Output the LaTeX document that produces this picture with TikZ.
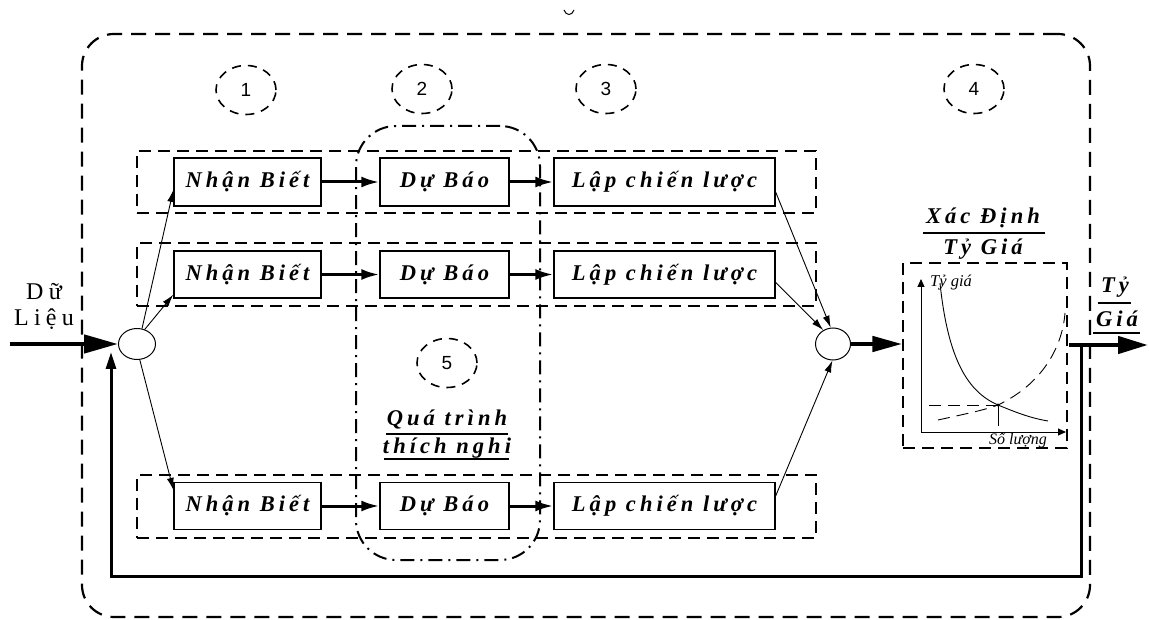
\documentclass[tikz,border=0pt]{standalone}
\usepackage{fontspec}
\setmainfont{Liberation Serif}
\newfontfamily\bfit[LetterSpace=18]{Liberation Serif}
\newfontfamily\spacedrm[LetterSpace=22]{Liberation Serif}
\newfontfamily\numfont{Liberation Sans}
\usetikzlibrary{arrows.meta,calc,shapes.geometric}
\begin{document}
\begin{tikzpicture}[x=1pt,y=-1pt,
  procbox/.style={draw,line width=1.3pt,inner sep=0pt,minimum height=47pt,
    font=\bfit\bfseries\itshape\fontsize{22.5}{22.5}\selectfont},
  rowrect/.style={draw,line width=1.2pt,dash pattern=on 12pt off 7pt,inner sep=0pt,minimum width=679pt},
  numcirc/.style={ellipse,draw,line width=1.6pt,dash pattern=on 9pt off 7pt,inner sep=0pt,
    minimum width=60pt,minimum height=49pt,font=\numfont\fontsize{19}{19}\selectfont},
  junction/.style={ellipse,draw,line width=1pt,inner sep=0pt},
  lbl/.style={inner sep=0pt,font=\bfit\bfseries\itshape\fontsize{22.5}{22.5}\selectfont},
  thickarr/.style={line width=3pt,-{Latex[length=18pt,width=11pt]}},
  thinarr/.style={line width=0.9pt,-{Latex[length=12pt,width=7pt]}},
  bigarr/.style={line width=4.5pt,-{Triangle[length=34pt,width=18pt]}},
  fbarr/.style={line width=3pt,-{Triangle[length=17pt,width=10pt]}},
  axisarr/.style={line width=1pt,-{Triangle[length=8pt,width=7pt]}},
  uline/.style={line width=1.2pt}
]
\useasboundingbox (0,0) rectangle (1149,620);
\fill[white] (0,0) rectangle (1149,620);

% outer system boundary
\node[draw,line width=2.2pt,dash pattern=on 15pt off 9pt,rounded corners=32pt,
  minimum width=1008pt,minimum height=583pt,inner sep=0pt] (sys) at (586,325.5) {};
% small mark at top
\draw[line width=1pt] (564,10) .. controls (566,16) and (572,16) .. (574,10);

% numbered circles
\node[numcirc] (c1) at (246,90) {1};
\node[numcirc] (c2) at (422,89) {2};
\node[numcirc] (c3) at (606,89) {3};
\node[numcirc] (c4) at (974,89) {4};
\node[numcirc] (c5) at (447,363) {5};

% row frames
\node[rowrect,minimum height=62pt] (r1) at (476.5,182) {};
\node[rowrect,minimum height=63pt] (r2) at (476.5,274.5) {};
\node[rowrect,minimum height=63pt] (r3) at (476.5,506.5) {};

% adaptive process region
\node[draw,line width=2pt,dash pattern=on 14pt off 6pt on 2pt off 6pt,rounded corners=40pt,
  minimum width=184pt,minimum height=434pt,inner sep=0pt] (adapt) at (448,343) {};

% process boxes
\node[procbox,minimum width=147pt,minimum height=48pt] (nb1) at (247.5,182) {Nhận Biết};
\node[procbox,minimum width=129pt,minimum height=48pt] (db1) at (444.5,182) {Dự Báo};
\node[procbox,minimum width=221pt,minimum height=48pt] (lc1) at (664.5,182) {Lập chiến lược};
\node[procbox,minimum width=147pt] (nb2) at (247.5,274.5) {Nhận Biết};
\node[procbox,minimum width=129pt] (db2) at (444.5,274.5) {Dự Báo};
\node[procbox,minimum width=221pt] (lc2) at (664.5,274.5) {Lập chiến lược};
\node[procbox,minimum width=147pt] (nb3) at (247.5,506) {Nhận Biết};
\node[procbox,minimum width=129pt] (db3) at (444.5,506) {Dự Báo};
\node[procbox,minimum width=221pt] (lc3) at (664.5,506) {Lập chiến lược};

\draw[thickarr] (nb1.east) -- (db1.west);
\draw[thickarr] (db1.east) -- (lc1.west);
\draw[thickarr] (nb2.east) -- (db2.west);
\draw[thickarr] (db2.east) -- (lc2.west);
\draw[thickarr] (nb3.east) -- (db3.west);
\draw[thickarr] (db3.east) -- (lc3.west);

% junctions
\node[junction,minimum width=37pt,minimum height=31pt] (in) at (137,344) {};
\node[junction,minimum width=35pt,minimum height=32pt] (sum) at (833,344) {};

% input
\node[inner sep=0pt,font=\spacedrm\fontsize{24}{24}\selectfont] (d1) at (44,292) {Dữ};
\node[inner sep=0pt,font=\spacedrm\fontsize{24}{24}\selectfont] (d2) at (44,319) {Liệu};
\coordinate (src) at (10,344);
\draw[bigarr] (src) -- (in.west);

% fan out
\draw[thinarr] (in.72) -- ($(nb1.west)+(0,8)$);
\draw[thinarr] (in.62) -- ($(nb2.south west)+(0,-4)$);
\draw[thinarr] (in.-80) -- ($(nb3.north west)+(0,8)$);

% fan in
\draw[thinarr] ($(lc1.east)+(0,10)$) -- (sum.98);
\draw[thinarr] ($(lc2.east)+(0,8)$) -- (sum.125);
\draw[thinarr] ($(lc3.east)+(0,-10)$) -- (sum.-92);

% chart block
\node[draw,line width=1.2pt,dash pattern=on 12pt off 7pt,minimum width=164pt,minimum height=185pt,
  inner sep=0pt] (chart) at (985,355.5) {};
\draw[line width=4.5pt,-{Triangle[length=30pt,width=15pt]}] (sum.east) -- (sum.east -| chart.west);
\node[lbl] (xd) at (983,218) {Xác Định};
\draw[uline] (923,233) -- (1045,233);
\node[lbl] (tg) at (983,249) {Tỷ Giá};

\coordinate (O) at (921,432);
\coordinate (Ytop) at (921,279);
\coordinate (Xend) at (1066,432);
\coordinate (E) at (998,405);
\draw[axisarr] (O) -- (Ytop);
\draw[axisarr] (O) -- (Xend);
\node[inner sep=0pt,anchor=west,font=\itshape\fontsize{16.5}{16.5}\selectfont] (ylab) at (930,283) {Tỷ giá};
\node[inner sep=0pt,font=\itshape\fontsize{16}{16}\selectfont] (xlab) at (1018,440) {Số lượng};
\draw[line width=0.9pt] (940,283) .. controls (948,360) and (968,392) .. (E)
  .. controls (1015,412) and (1030,418) .. (1048,421);
\draw[line width=0.9pt,dash pattern=on 12pt off 7pt] (938,420) .. controls (965,414) and (985,410) .. (E)
  .. controls (1040,385) and (1062,350) .. (1065,313);
\draw[line width=0.9pt,dash pattern=on 12pt off 7pt] (E) -- (E -| O);
\draw[line width=0.9pt] (E) -- ($(E)+(0,21)$);
\fill (E) circle (1.6pt);

% output
\coordinate (outA) at (1069,345);
\coordinate (outB) at (1148,345);
\draw[line width=4.5pt,-{Triangle[length=30pt,width=17pt]}] (outA) -- (outB);
\node[lbl] (ot1) at (1115,287) {Tỷ};
\draw[uline] (1098,303) -- (1131,303);
\node[lbl] (ot2) at (1117,319) {Giá};
\draw[uline] (1093,333) -- (1140,333);

% feedback
\coordinate (fbA) at (1081,345);
\coordinate (fbB) at (1081,576);
\coordinate (fbC) at (111,576);
\coordinate (fbD) at (111,352);
\draw[fbarr] (fbA) -- (fbB) -- (fbC) -- (fbD);

% adaptive process label
\node[lbl] (q1) at (447,420) {Quá trình};
\draw[uline] (386,434) -- (508,434);
\node[lbl] (q2) at (447,448) {thích nghi};
\draw[uline] (384,459) -- (509,459);
\end{tikzpicture}
\end{document}
